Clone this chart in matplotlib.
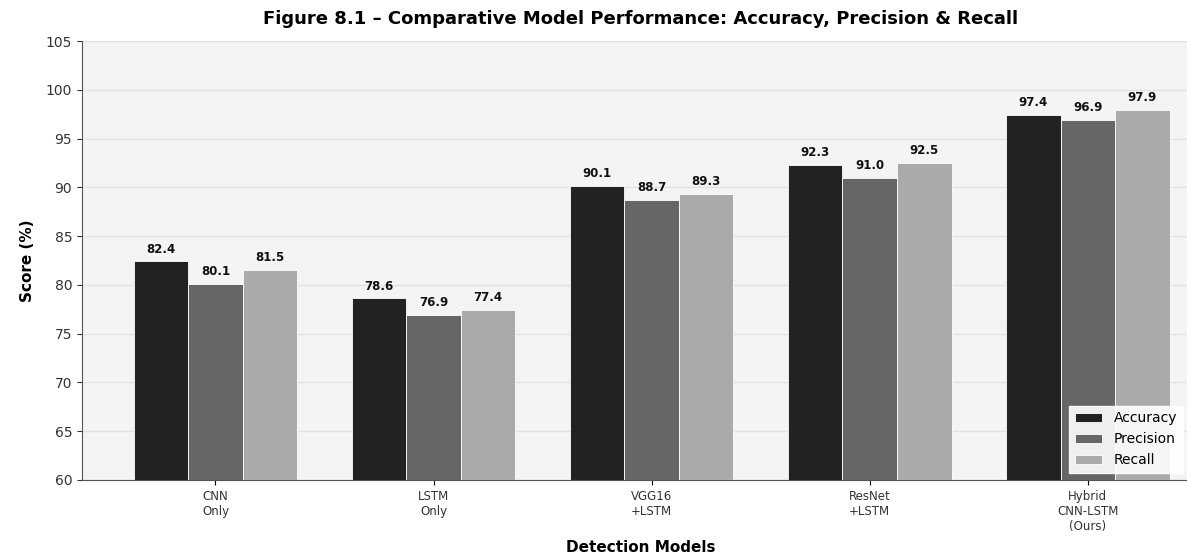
import matplotlib.pyplot as plt
import numpy as np

models = ["CNN\nOnly", "LSTM\nOnly", "VGG16\n+LSTM", "ResNet\n+LSTM", "Hybrid\nCNN-LSTM\n(Ours)"]
accuracy = [82.4, 78.6, 90.1, 92.3, 97.4]
precision = [80.1, 76.9, 88.7, 91.0, 96.9]
recall = [81.5, 77.4, 89.3, 92.5, 97.9]

series = [("Accuracy", accuracy, "#222222"),
          ("Precision", precision, "#666666"),
          ("Recall", recall, "#aaaaaa")]

fig = plt.figure(figsize=(11.87, 5.58), dpi=100)
ax = fig.add_axes([0.069, 0.14, 0.96, 0.7865])
ax.set_facecolor("#f4f4f4")

x = np.arange(len(models))
width = 0.25

for i, (name, vals, col) in enumerate(series):
    pos = x + (i - 1) * width
    ax.bar(pos, vals, width, color=col, edgecolor="white", linewidth=0.6, label=name, zorder=3)
    for px, v in zip(pos, vals):
        ax.text(px, v + 0.6, f"{v:.1f}", ha="center", va="bottom",
                fontsize=8.5, fontweight="bold", color="#111111", zorder=4)

ax.set_ylim(60, 105)
ax.set_yticks(np.arange(60, 106, 5))
ax.set_xticks(x)
ax.set_xticklabels(models, fontsize=8.5, color="#333333")
ax.tick_params(axis="y", labelsize=10, colors="#333333")
ax.grid(axis="y", color="#e2e2e2", linewidth=1.0, zorder=0)

for s in ["top", "right"]:
    ax.spines[s].set_visible(False)
for s in ["left", "bottom"]:
    ax.spines[s].set_color("#555555")

ax.set_title("Figure 8.1 – Comparative Model Performance: Accuracy, Precision & Recall",
             fontsize=13, fontweight="bold", pad=12, x=0.49)
ax.set_ylabel("Score (%)", fontsize=11, fontweight="bold", labelpad=8)
fig.text(0.54, 0.018, "Detection Models", fontsize=11, fontweight="bold",
         ha="center", va="center")

ax.legend(loc="lower right", bbox_to_anchor=(0.972, 0.0), fontsize=10,
          framealpha=0.9, fancybox=False, edgecolor="white")

fig.savefig("out.png", dpi=100)
